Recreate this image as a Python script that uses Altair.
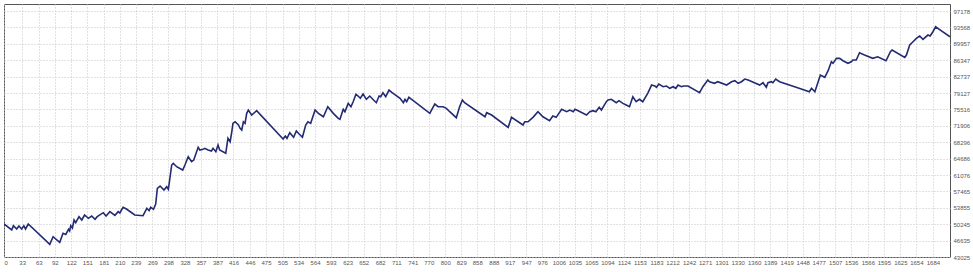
import altair as alt
import pandas as pd

trades = [0, 14, 17, 23, 27, 32, 36, 39, 44, 83, 89, 101, 107, 112, 117, 119, 121, 124, 127, 130,
          136, 141, 146, 153, 159, 165, 169, 180, 185, 192, 201, 207, 210, 213, 216, 222, 237, 252, 259, 263,
          266, 271, 275, 278, 283, 290, 295, 298, 304, 307, 313, 324, 328, 334, 340, 344, 352, 355, 361, 364,
          370, 376, 379, 384, 388, 391, 402, 406, 410, 413, 415, 419, 425, 428, 431, 434, 437, 440, 443, 449,
          458, 506, 510, 513, 518, 525, 530, 535, 541, 547, 551, 556, 564, 570, 579, 587, 597, 606, 609, 615,
          618, 624, 629, 633, 638, 642, 646, 651, 657, 663, 670, 675, 680, 683, 687, 692, 698, 703, 708, 718,
          724, 727, 730, 734, 739, 772, 775, 781, 787, 796, 802, 808, 820, 826, 831, 835, 872, 875, 884, 914,
          920, 941, 944, 950, 959, 968, 977, 989, 995, 1001, 1011, 1020, 1026, 1032, 1035, 1041, 1056, 1062, 1068, 1073,
          1079, 1083, 1092, 1095, 1101, 1110, 1115, 1122, 1128, 1134, 1140, 1146, 1152, 1158, 1167, 1174, 1180, 1183, 1187, 1195,
          1201, 1207, 1213, 1218, 1222, 1228, 1232, 1240, 1261, 1267, 1276, 1279, 1288, 1294, 1310, 1319, 1325, 1331, 1337, 1343,
          1349, 1370, 1376, 1382, 1385, 1391, 1394, 1399, 1406, 1436, 1460, 1464, 1470, 1476, 1480, 1488, 1494, 1500, 1503, 1509,
          1515, 1521, 1530, 1536, 1539, 1545, 1551, 1560, 1575, 1584, 1599, 1607, 1610, 1633, 1636, 1642, 1648, 1654, 1660, 1666,
          1675, 1679, 1684, 1689, 1693, 1715]

balance = [50290, 48970, 49910, 49190, 49850, 49190, 49910, 49190, 50290, 45820, 47490, 46260, 48240, 47980, 49120, 48750, 49910, 49410, 51170, 50570,
           51900, 51170, 52270, 51540, 52050, 51320, 51900, 52780, 52050, 53000, 52200, 53000, 52710, 53370, 53960, 53590, 52270, 52120, 53740, 53220,
           53960, 53520, 54690, 58150, 58650, 57770, 58500, 57930, 63270, 63650, 62900, 62170, 63270, 65100, 64000, 64370, 67170, 66580, 66730, 66950,
           66580, 66360, 66950, 66200, 67680, 66580, 65850, 69150, 68400, 70600, 72450, 72800, 72080, 71350, 70980, 72800, 72450, 74650, 75380, 74280,
           75230, 69000, 69660, 69150, 70380, 69370, 70760, 70100, 69370, 72080, 72800, 72450, 75380, 74650, 73900, 76110, 74650, 73550, 73330, 75530,
           75010, 76850, 76110, 77210, 78840, 78460, 77960, 78900, 77740, 78460, 77580, 76990, 78460, 78310, 79190, 78310, 79780, 79280, 78840, 77960,
           76990, 77740, 77210, 78180, 77740, 74650, 75380, 76700, 76110, 76110, 75750, 75010, 73690, 76110, 77580, 76990, 73900, 74790, 74280, 71570,
           73770, 72080, 72800, 72800, 73770, 75010, 73900, 73030, 74060, 73770, 75530, 75010, 75380, 75010, 75530, 75230, 74280, 75010, 75230, 75010,
           75970, 75380, 77210, 77580, 77740, 76990, 77430, 76850, 76480, 76110, 78310, 77210, 77740, 77210, 79060, 80880, 80660, 80380, 81100, 80510,
           80660, 80160, 80510, 80160, 80880, 80510, 80660, 80660, 79190, 80510, 81980, 81610, 81260, 81610, 80880, 81610, 81830, 81260, 81610, 82200,
           81980, 80880, 81390, 80380, 81390, 81610, 81390, 82200, 81610, 80380, 79410, 80160, 79410, 81610, 83080, 82580, 84030, 86010, 85660, 86760,
           86760, 86230, 85660, 86010, 86380, 86380, 87990, 87490, 86760, 87110, 86230, 88210, 88590, 86980, 87490, 89690, 90410, 91160, 91670, 90940,
           91890, 91670, 92610, 93710, 93360, 91510]

x_ticks = [0, 33, 63, 92, 122, 151, 181, 210, 239, 269, 298, 328, 357, 387, 416, 446, 475, 505, 534, 564,
           593, 623, 652, 682, 711, 741, 770, 800, 829, 858, 888, 917, 947, 976, 1006, 1035, 1065, 1094, 1124, 1153,
           1183, 1212, 1242, 1271, 1301, 1330, 1360, 1389, 1419, 1448, 1477, 1507, 1536, 1566, 1595, 1625, 1654, 1684]

y_ticks = [43025, 46635, 50245, 53855, 57465, 61076, 64686, 68296, 71906, 75516, 79127, 82737, 86347, 89957, 93568, 97178]

df = pd.DataFrame({"trade": trades, "balance": balance})

chart = alt.Chart(df).mark_line(color="#232b72", strokeWidth=1.6, clip=True).encode(
    x=alt.X("trade:Q",
            scale=alt.Scale(domain=[0, 1715], nice=False, zero=False),
            axis=alt.Axis(values=x_ticks, format="d", title=None, grid=True, gridColor="#c4c4c4",
                          gridDash=[1, 2], gridWidth=1, ticks=False, domain=False,
                          labelFontSize=6, labelColor="#555555", labelPadding=2,
                          labelFlush=True, labelOverlap=False, labelFont="Liberation Sans")),
    y=alt.Y("balance:Q",
            scale=alt.Scale(domain=[43025, 98720], nice=False, zero=False),
            axis=alt.Axis(values=y_ticks, format="d", orient="right", title=None, grid=True, gridColor="#c4c4c4",
                          gridDash=[1, 2], gridWidth=1, ticks=False, domain=False,
                          labelFontSize=6, labelColor="#555555", labelPadding=3,
                          labelFlush=False, labelOverlap=False, labelFont="Liberation Sans")),
).properties(
    width=946,
    height=253,
    padding={"left": 4, "top": 4, "right": 23, "bottom": 15},
    autosize=alt.AutoSizeParams(type="none"),
    background="white",
).configure_view(stroke="#555555", strokeWidth=1)

chart.save("out.html", embed_options={"renderer": "svg", "actions": False})
